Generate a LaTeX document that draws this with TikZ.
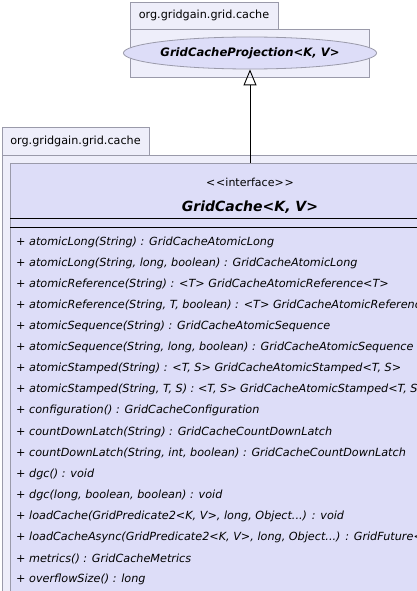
\documentclass[tikz,border=0pt]{standalone}
\usepackage{fontspec}
\setmainfont{DejaVu Sans}
\usetikzlibrary{arrows.meta,shapes.geometric}
\definecolor{pkgfill}{HTML}{EEEEFA}
\definecolor{clsfill}{HTML}{DDDDF8}
\definecolor{bordergray}{HTML}{9A9AAA}
\tikzset{
  pkg/.style={draw=bordergray, fill=pkgfill, line width=0.8pt},
  pkglabel/.style={font=\fontsize{11.2}{13}\selectfont, inner sep=0pt},
  clsbox/.style={draw=bordergray, fill=clsfill, line width=0.8pt, rectangle, inner sep=0pt, minimum width=480pt, minimum height=460pt, anchor=north},
  ifacebox/.style={draw=bordergray, fill=clsfill, ellipse, inner sep=0pt, minimum width=224pt, minimum height=32pt, line width=0.8pt, font=\fontsize{11.6}{14}\selectfont\bfseries\itshape},
  member/.style={anchor=west, inner sep=0pt, font=\fontsize{11.22}{13}\selectfont\itshape},
  sep/.style={line width=0.9pt, black},
  gen/.style={line width=0.9pt, -{Triangle[open, width=13pt, length=16pt]}}
}
\begin{document}
\begin{tikzpicture}[x=1pt, y=-1pt]
\clip (0,0) rectangle (417,591);
\fill[white] (0,0) rectangle (417,591);
% top package
\draw[pkg] (130,2) rectangle (278,29);
\node[pkglabel] (pkgA) at (204,15.5) {org.gridgain.grid.cache};
\draw[pkg] (130,29) rectangle (369,77);
\node[ifacebox] (proj) at (250,53) {GridCacheProjection<K, V>};
% bottom package
\draw[pkg] (2,127) rectangle (149,155);
\node[pkglabel] (pkgB) at (75.5,141) {org.gridgain.grid.cache};
\draw[pkg] (2,155) rectangle (440,620);
\node[clsbox] (cls) at (250,163) {};
\node[inner sep=0pt, font=\fontsize{11}{13}\selectfont] (stereo) at (250,182) {{<}\kern1pt{<}interface{>}\kern1pt{>}};
\node[inner sep=0pt, font=\fontsize{14}{16}\selectfont\bfseries\itshape] (title) at (250,207) {GridCache<K, V>};
\draw[sep] (10,218) -- (490,218);
\draw[sep] (10,227) -- (490,227);
\node[member] (m0) at (16,242.0) {+ atomicLong(String) : GridCacheAtomicLong};
\node[member] (m1) at (16,263.1) {+ atomicLong(String, long, boolean) : GridCacheAtomicLong};
\node[member] (m2) at (16,284.2) {+ atomicReference(String) : <T> GridCacheAtomicReference<T>};
\node[member] (m3) at (16,305.3) {+ atomicReference(String, T, boolean) : <T> GridCacheAtomicReference<T>};
\node[member] (m4) at (16,326.4) {+ atomicSequence(String) : GridCacheAtomicSequence};
\node[member] (m5) at (16,347.5) {+ atomicSequence(String, long, boolean) : GridCacheAtomicSequence};
\node[member] (m6) at (16,368.6) {+ atomicStamped(String) : <T, S> GridCacheAtomicStamped<T, S>};
\node[member] (m7) at (16,389.7) {+ atomicStamped(String, T, S) : <T, S> GridCacheAtomicStamped<T, S>};
\node[member] (m8) at (16,410.8) {+ configuration() : GridCacheConfiguration};
\node[member] (m9) at (16,431.9) {+ countDownLatch(String) : GridCacheCountDownLatch};
\node[member] (m10) at (16,453.0) {+ countDownLatch(String, int, boolean) : GridCacheCountDownLatch};
\node[member] (m11) at (16,474.1) {+ dgc() : void};
\node[member] (m12) at (16,495.2) {+ dgc(long, boolean, boolean) : void};
\node[member] (m13) at (16,516.3) {+ loadCache(GridPredicate2<K, V>, long, Object...) : void};
\node[member] (m14) at (16,537.4) {+ loadCacheAsync(GridPredicate2<K, V>, long, Object...) : GridFuture<?>};
\node[member] (m15) at (16,558.5) {+ metrics() : GridCacheMetrics};
\node[member] (m16) at (16,579.6) {+ overflowSize() : long};
\draw[gen] (cls.north) -- (proj.south);
\end{tikzpicture}
\end{document}
